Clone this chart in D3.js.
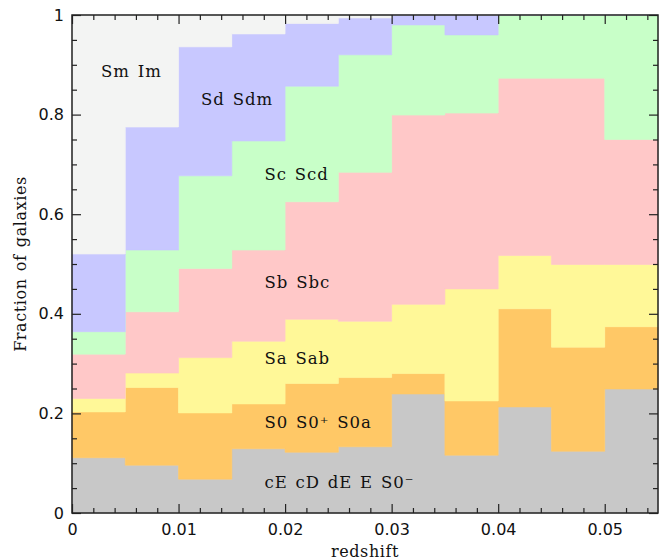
<!DOCTYPE html>
<html><head><meta charset="utf-8">
<script src="https://cdn.jsdelivr.net/npm/d3@7"></script>
<style>
html,body{margin:0;padding:0;background:#fff;}
svg{display:block;}
</style></head>
<body>
<div id="chart"></div>
<script>
// Bin left edges (redshift), bin width 0.005
const binStarts = [0, 0.005, 0.01, 0.015, 0.02, 0.025, 0.03, 0.035, 0.04, 0.045, 0.05];
const binWidth = 0.005;
// Fraction of galaxies per morphological class in each bin (bottom to top)
const cE = [0.111, 0.096, 0.068, 0.129, 0.122, 0.133, 0.239, 0.116, 0.213, 0.124, 0.249];
const S0 = [0.092, 0.156, 0.133, 0.090, 0.138, 0.139, 0.041, 0.109, 0.197, 0.209, 0.125];
const Sa = [0.027, 0.029, 0.111, 0.126, 0.129, 0.113, 0.139, 0.225, 0.107, 0.166, 0.125];
const Sb = [0.089, 0.123, 0.179, 0.183, 0.236, 0.299, 0.380, 0.353, 0.356, 0.374, 0.251];
const Sc = [0.045, 0.124, 0.186, 0.219, 0.232, 0.236, 0.181, 0.157, 0.127, 0.127, 0.250];
const Sd = [0.156, 0.247, 0.259, 0.215, 0.126, 0.074, 0.020, 0.040, 0.000, 0.000, 0.000];
const Sm = [0.480, 0.225, 0.064, 0.038, 0.017, 0.006, 0.000, 0.000, 0.000, 0.000, 0.000];

const classKeys = ["cE", "S0", "Sa", "Sb", "Sc", "Sd", "Sm"];
const classLabels = ["cE cD dE E S0\u207B", "S0 S0\u207A S0a", "Sa Sab", "Sb Sbc", "Sc Scd", "Sd Sdm", "Sm Im"];
const classColors = ["#c8c8c8", "#ffc866", "#fff898", "#ffc8c8", "#c8ffc8", "#c8c8ff", "#f3f4f3"];
// label anchor positions in data units (x redshift, y fraction = baseline)
const labelX = [0.01807, 0.01807, 0.01807, 0.01807, 0.01807, 0.01211, 0.00272];
const labelY = [0.050, 0.171, 0.300, 0.451, 0.668, 0.820, 0.875];

const xTicks = [0, 0.01, 0.02, 0.03, 0.04, 0.05];
const yTicks = [0, 0.2, 0.4, 0.6, 0.8, 1];
const xTickLabels = ["0", "0.01", "0.02", "0.03", "0.04", "0.05"];
const yTickLabels = ["0", "0.2", "0.4", "0.6", "0.8", "1"];

const W = 672, H = 560;
const m = {left: 72, right: 14, top: 15, bottom: 47};
const svg = d3.select("#chart").append("svg").attr("width", W).attr("height", H);

const x = d3.scaleLinear().domain([0, 0.055]).range([m.left, W - m.right]);
const y = d3.scaleLinear().domain([0, 1]).range([H - m.bottom, m.top]);

const series = {cE, S0, Sa, Sb, Sc, Sd, Sm};
const rows = binStarts.map((b, i) => {
  const r = {z: b};
  classKeys.forEach(k => r[k] = series[k][i]);
  return r;
});
// closing point so the last step reaches the right edge
const last = Object.assign({}, rows[rows.length - 1], {z: binStarts[binStarts.length - 1] + binWidth});
const rowsExt = rows.concat([last]);

const stack = d3.stack().keys(classKeys);
const layers = stack(rowsExt);

const area = d3.area()
  .curve(d3.curveStepAfter)
  .x(d => x(d.data.z))
  .y0(d => y(d[0]))
  .y1(d => y(d[1]));

const g = svg.append("g");
g.selectAll("path.layer").data(layers).join("path")
  .attr("class", "layer")
  .attr("d", area)
  .attr("fill", (d, i) => classColors[i])
  .attr("stroke", (d, i) => classColors[i])
  .attr("stroke-width", 0.6);

// labels
g.selectAll("text.lab").data(classKeys).join("text")
  .attr("class", "lab")
  .attr("x", (d, i) => x(labelX[i]))
  .attr("y", (d, i) => y(labelY[i]))
  .attr("font-family", "'DejaVu Serif', serif")
  .attr("font-size", 16.5)
  .attr("letter-spacing", 1)
  .attr("word-spacing", 1.5)
  .attr("fill", "#111")
  .text((d, i) => classLabels[i]);

// axes with inward ticks on all sides
const axCol = "#222";
function styleAxis(sel) {
  sel.select(".domain").remove();
  sel.selectAll("line").attr("stroke", axCol).attr("stroke-width", 1.2);
  sel.selectAll("text").attr("fill", "#111");
}
const xMinor = d3.range(0, 0.0551, 0.002).filter(v => Math.abs(v / 0.01 - Math.round(v / 0.01)) > 1e-6);
const yMinor = d3.range(0, 1.0001, 0.05).filter(v => Math.abs(v / 0.2 - Math.round(v / 0.2)) > 1e-6);

// bottom
svg.append("g").attr("transform", `translate(0,${H - m.bottom})`)
  .call(d3.axisBottom(x).tickValues(xTicks).tickSize(-9).tickPadding(11)
        .tickFormat((d, i) => xTickLabels[i]))
  .call(styleAxis)
  .call(s => s.selectAll("text").attr("font-family", "'DejaVu Sans', sans-serif").attr("font-size", 16));
svg.append("g").attr("transform", `translate(0,${H - m.bottom})`)
  .call(d3.axisBottom(x).tickValues(xMinor).tickSize(-5).tickFormat(""))
  .call(styleAxis);
// top
svg.append("g").attr("transform", `translate(0,${m.top})`)
  .call(d3.axisTop(x).tickValues(xTicks).tickSize(-9).tickFormat(""))
  .call(styleAxis);
svg.append("g").attr("transform", `translate(0,${m.top})`)
  .call(d3.axisTop(x).tickValues(xMinor).tickSize(-5).tickFormat(""))
  .call(styleAxis);
// left
svg.append("g").attr("transform", `translate(${m.left},0)`)
  .call(d3.axisLeft(y).tickValues(yTicks).tickSize(-9).tickPadding(8)
        .tickFormat((d, i) => yTickLabels[i]))
  .call(styleAxis)
  .call(s => s.selectAll("text").attr("font-family", "'DejaVu Sans', sans-serif").attr("font-size", 16));
svg.append("g").attr("transform", `translate(${m.left},0)`)
  .call(d3.axisLeft(y).tickValues(yMinor).tickSize(-5).tickFormat(""))
  .call(styleAxis);
// right
svg.append("g").attr("transform", `translate(${W - m.right},0)`)
  .call(d3.axisRight(y).tickValues(yTicks).tickSize(-9).tickFormat(""))
  .call(styleAxis);
svg.append("g").attr("transform", `translate(${W - m.right},0)`)
  .call(d3.axisRight(y).tickValues(yMinor).tickSize(-5).tickFormat(""))
  .call(styleAxis);

// frame
svg.append("rect")
  .attr("x", x(0)).attr("y", y(1))
  .attr("width", x(0.055) - x(0)).attr("height", y(0) - y(1))
  .attr("fill", "none").attr("stroke", axCol).attr("stroke-width", 1.5);

// axis titles
svg.append("text")
  .attr("x", (x(0) + x(0.055)) / 2).attr("y", 557)
  .attr("text-anchor", "middle")
  .attr("font-family", "'DejaVu Serif', serif").attr("font-size", 16)
  .attr("letter-spacing", 0.6)
  .attr("fill", "#111")
  .text("redshift");
svg.append("text")
  .attr("transform", `translate(26,${(y(0) + y(1)) / 2}) rotate(-90)`)
  .attr("text-anchor", "middle")
  .attr("font-family", "'DejaVu Serif', serif").attr("font-size", 16)
  .attr("letter-spacing", 0.6)
  .attr("word-spacing", 1.5)
  .attr("fill", "#111")
  .text("Fraction of galaxies");
</script>
</body></html>
